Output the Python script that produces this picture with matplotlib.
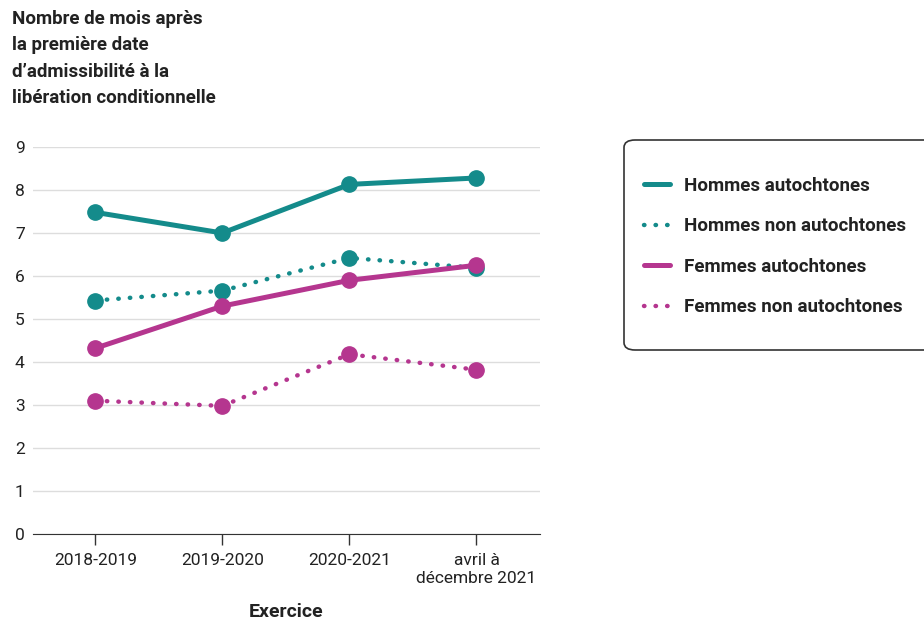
import matplotlib
matplotlib.use("Agg")
import matplotlib.pyplot as plt
from matplotlib.lines import Line2D
from matplotlib.patches import FancyBboxPatch

plt.rcParams['font.family'] = ['Roboto', 'DejaVu Sans']

exercices = ['2018-2019', '2019-2020', '2020-2021', 'avril à\ndécembre 2021']
hommes_auto = [7.48, 7.0, 8.13, 8.28]
hommes_non = [5.43, 5.66, 6.42, 6.19]
femmes_auto = [4.32, 5.30, 5.90, 6.25]
femmes_non = [3.10, 2.98, 4.18, 3.82]

teal = '#148b8b'
magenta = '#b5368f'
dots = (0, (0.1, 2.5))

fig = plt.figure(figsize=(9.24, 6.21), dpi=100)
ax = fig.add_axes([33 / 924, 1 - 534 / 621, (540 - 33) / 924, (534 - 147) / 621])

x = range(len(exercices))
ax.plot(x, hommes_auto, color=teal, lw=3.6, marker='o', ms=11, solid_capstyle='round', zorder=3)
ax.plot(x, hommes_non, color=teal, lw=3.2, ls=dots, dash_capstyle='round', marker='o', ms=11, zorder=3)
ax.plot(x, femmes_auto, color=magenta, lw=3.6, marker='o', ms=11, solid_capstyle='round', zorder=3)
ax.plot(x, femmes_non, color=magenta, lw=3.2, ls=dots, dash_capstyle='round', marker='o', ms=11, zorder=3)

ax.set_xlim(-0.49, 3.5)
ax.set_ylim(0, 9)
ax.set_yticks(range(10))
ax.set_xticks(list(x))
ax.set_xticklabels(exercices, fontsize=12.5, color='#222222')
ax.tick_params(axis='y', length=0, labelsize=12.5, labelcolor='#222222', pad=6)
ax.tick_params(axis='x', length=8, width=1, color='#333333', pad=6)
ax.grid(axis='y', color='#dddddd', lw=1)
ax.set_axisbelow(True)
for s in ['top', 'right', 'left']:
    ax.spines[s].set_visible(False)
ax.spines['bottom'].set_color('#333333')
ax.set_xlabel('Exercice', fontsize=14, fontweight='bold', color='#222222', labelpad=12)

fig.text(12 / 924, 1 - 10 / 621,
         "Nombre de mois après\nla première date\nd’admissibilité à la\nlibération conditionnelle",
         fontsize=13.5, fontweight='bold', color='#222222', va='top', ha='left', linespacing=1.6)

# legend box
box = FancyBboxPatch((624 / 924, 1 - 350 / 621), 320 / 924, 210 / 621,
                     boxstyle='round,pad=0,rounding_size=0.012', transform=fig.transFigure,
                     facecolor='white', edgecolor='#333333', lw=1.2, clip_on=False)
fig.patches.append(box)

handles = [
    Line2D([], [], color=teal, lw=3.6, solid_capstyle='round'),
    Line2D([], [], color=teal, lw=3.2, ls=dots, dash_capstyle='round'),
    Line2D([], [], color=magenta, lw=3.6, solid_capstyle='round'),
    Line2D([], [], color=magenta, lw=3.2, ls=dots, dash_capstyle='round'),
]
labels = ['Hommes autochtones', 'Hommes non autochtones', 'Femmes autochtones', 'Femmes non autochtones']
leg = fig.legend(handles, labels, loc='upper left', bbox_to_anchor=(644 / 924, 1 - 177 / 621),
                 frameon=False, prop={'weight': 'bold', 'size': 13.5},
                 handlelength=1.4, handletextpad=0.75, labelspacing=1.2, borderpad=0,
                 borderaxespad=0)
for t in leg.get_texts():
    t.set_color('#222222')

fig.savefig('out.png', dpi=100)
